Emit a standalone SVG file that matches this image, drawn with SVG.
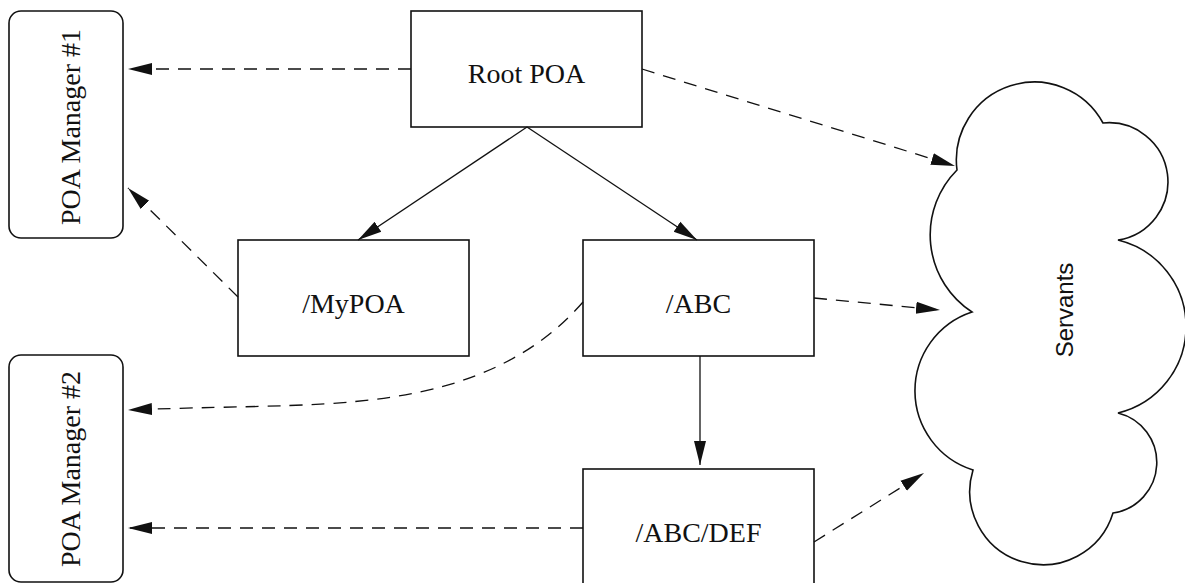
<svg xmlns="http://www.w3.org/2000/svg" width="1185" height="583" viewBox="0 0 1185 583">
<style>
.box{fill:#fff;stroke:#111;stroke-width:1.6}
.lbl{font-family:"Liberation Serif","Times New Roman",serif;font-size:28px;fill:#111;text-anchor:middle}
.sans{font-family:"Liberation Sans",Arial,sans-serif;font-size:24px;fill:#111;text-anchor:middle}
.solid{fill:none;stroke:#111;stroke-width:1.3;marker-end:url(#ah)}
.dash{fill:none;stroke:#111;stroke-width:1.3;stroke-dasharray:13 9;marker-end:url(#ah)}
</style>
<defs>
<marker id="ah" markerUnits="userSpaceOnUse" markerWidth="30" markerHeight="16" refX="24" refY="7" orient="auto" viewBox="0 0 30 16">
<path d="M0,1 L24,7 L0,13 Z" fill="#111"/>
</marker>
</defs>
<rect width="1185" height="583" fill="#fff"/>
<g id="poa-manager-1">
<rect class="box" x="9" y="11" width="114" height="227" rx="12"/>
<text class="lbl" transform="translate(80,127) rotate(-90)">POA Manager #1</text>
</g>
<g id="poa-manager-2">
<rect class="box" x="9" y="355" width="114" height="227" rx="12"/>
<text class="lbl" transform="translate(80,469) rotate(-90)">POA Manager #2</text>
</g>
<g id="root-poa">
<rect class="box" x="411" y="11" width="231" height="116"/>
<text class="lbl" x="526.5" y="83">Root POA</text>
</g>
<g id="mypoa">
<rect class="box" x="238" y="240" width="231" height="116"/>
<text class="lbl" x="353.5" y="313">/MyPOA</text>
</g>
<g id="abc">
<rect class="box" x="583" y="240" width="231" height="116"/>
<text class="lbl" x="698.5" y="313">/ABC</text>
</g>
<g id="abc-def">
<rect class="box" x="583" y="469" width="231" height="116"/>
<text class="lbl" x="698.5" y="542">/ABC/DEF</text>
</g>
<g id="servants">
<path class="box" d="M957,170 A78,78 0 0 1 1103,123 A59,59 0 0 1 1118,240 A89,89 0 0 1 1118,413 A51,51 0 0 1 1113,513 A73,73 0 0 1 973,470 A83,83 0 0 1 972,312 A92,92 0 0 1 957,170 Z"/>
<text class="sans" transform="translate(1073,310) rotate(-90)">Servants</text>
</g>
<g id="connectors">
<path class="solid" d="M527,127 L358,240"/>
<path class="solid" d="M527,127 L697,240"/>
<path class="solid" d="M700,356 L700,465"/>
<path class="dash" d="M411,69 L128,69"/>
<path class="dash" d="M238,297 L128,188"/>
<path class="dash" d="M583,302 C550,340 500,375 420,392 S250,405 128,410"/>
<path class="dash" d="M583,528 L128,528"/>
<path class="dash" d="M642,69 L955,166"/>
<path class="dash" d="M814,298 L940,310"/>
<path class="dash" d="M814,542 L924,473"/>
</g>
</svg>
